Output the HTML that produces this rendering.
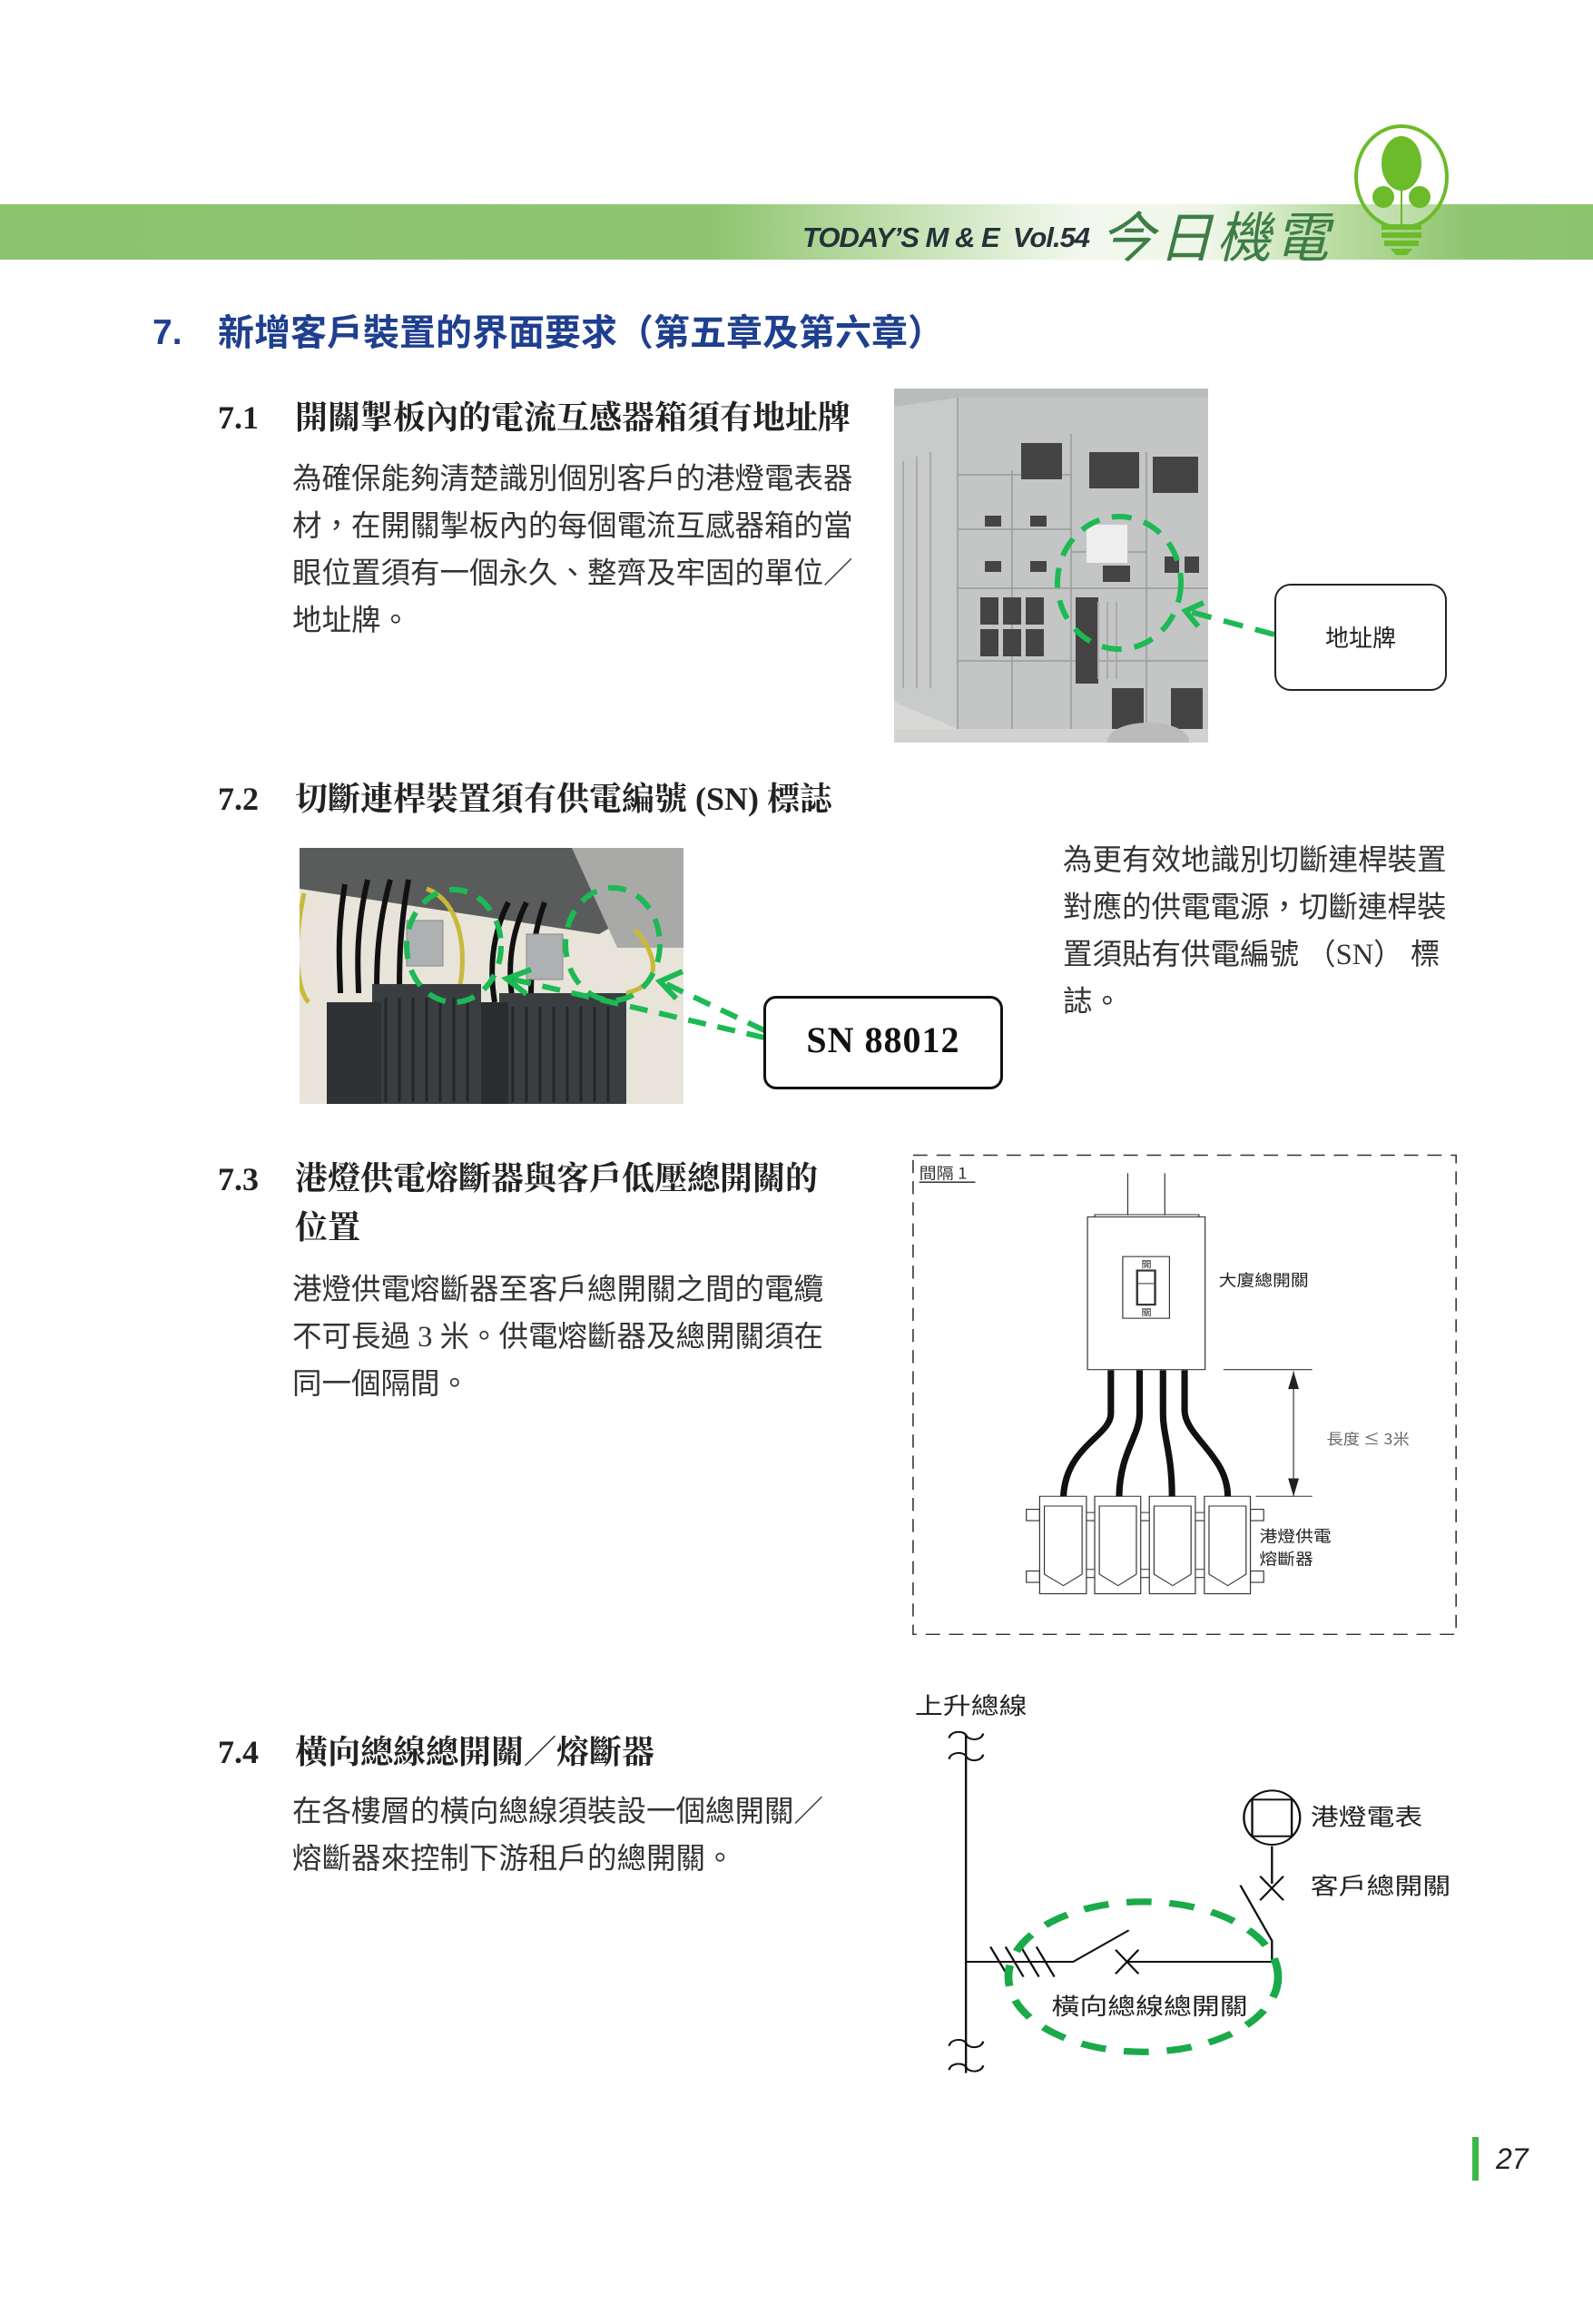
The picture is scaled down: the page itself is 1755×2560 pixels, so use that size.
<!DOCTYPE html>
<html><head><meta charset="utf-8">
<style>
body{margin:0;width:1755px;height:2560px;background:#fff;position:relative;overflow:hidden;font-family:"Liberation Sans","Noto Sans CJK TC",sans-serif;}
.a{position:absolute;white-space:nowrap;}
.h{font-family:"Liberation Serif","Noto Serif CJK SC",serif;font-weight:bold;font-size:36px;color:#222;}
.b{font-family:"Liberation Serif","Noto Sans CJK TC",sans-serif;font-size:32.5px;color:#333;line-height:52px;}
</style></head><body>
<div class="a" style="left:0;top:225px;width:1755px;height:61px;background:linear-gradient(90deg,#8cc46e 0%,#8fc570 45%,#c9e3b8 58%,#f2f8ee 68%,#eef6e8 76%,#b9dca0 84%,#8fc570 92%,#8cc46e 100%);"></div>
<div class="a" style="left:884px;top:244px;font:italic bold 31px 'Liberation Sans',sans-serif;color:#253238;letter-spacing:-1px;">TODAY’S M &amp; E&nbsp; Vol.54</div>
<div class="a" style="left:1212px;top:214px;font-size:60px;color:#3e7d46;font-family:'Noto Sans CJK TC',sans-serif;letter-spacing:4px;font-style:italic;">今日機電</div>
<svg class="a" style="left:1480px;top:135px" width="130" height="150" viewBox="0 0 130 150">
<ellipse cx="64" cy="60" rx="50" ry="56" fill="#fff" fill-opacity="0.3" stroke="#6cbb2a" stroke-width="4"/>
<ellipse cx="64" cy="45" rx="22" ry="30" fill="#6cbb2a"/>
<circle cx="44" cy="82" r="12" fill="#6cbb2a"/><circle cx="84" cy="82" r="12" fill="#6cbb2a"/>
<path d="M64 60V112" stroke="#6cbb2a" stroke-width="2"/>
<rect x="42" y="112" width="44" height="6" fill="#6cbb2a"/><rect x="42" y="121" width="44" height="6" fill="#6cbb2a"/><rect x="45" y="130" width="38" height="6" fill="#6cbb2a"/>
<path d="M52 139h24l-6 7h-12z" fill="#6cbb2a"/>
</svg>

<div class="a" style="left:168px;top:345px;font-size:39px;font-weight:bold;color:#1f3f8f;">7.</div>
<div class="a" style="left:240px;top:334px;font-size:40px;font-weight:bold;color:#1f3f8f;">新增客戶裝置的界面要求（第五章及第六章）</div>

<div class="a h" style="left:240px;top:439px;">7.1</div>
<div class="a h" style="left:325px;top:432px;">開關掣板內的電流互感器箱須有地址牌</div>
<div class="a b" style="left:322px;top:502px;">為確保能夠清楚識別個別客戶的港燈電表器<br>材，在開關掣板內的每個電流互感器箱的當<br>眼位置須有一個永久、整齊及牢固的單位／<br>地址牌。</div>

<svg class="a" style="left:985px;top:428px" width="346" height="390" viewBox="0 0 346 390">
<rect width="346" height="390" fill="#d8d8d6"/>
<rect x="0" y="0" width="346" height="30" fill="#b9bcbd"/>
<polygon points="0,20 70,10 70,375 0,345" fill="#c9cbca"/>
<rect x="70" y="10" width="276" height="365" fill="#c4c6c5"/>
<g stroke="#9a9c9b" stroke-width="1.5" fill="none">
<path d="M70 10V375M130 90V375M195 50V375M278 70V375M70 95H195M70 155H195M70 220H346M70 300H346M195 180H278"/>
</g>
<g fill="#444"><rect x="140" y="60" width="45" height="40"/><rect x="215" y="70" width="55" height="40"/><rect x="285" y="75" width="50" height="40"/>
<rect x="95" y="230" width="20" height="30"/><rect x="120" y="230" width="20" height="30"/><rect x="145" y="230" width="20" height="30"/>
<rect x="95" y="265" width="20" height="30"/><rect x="120" y="265" width="20" height="30"/><rect x="145" y="265" width="20" height="30"/>
<rect x="240" y="330" width="35" height="50"/><rect x="305" y="330" width="35" height="45"/>
<rect x="298" y="185" width="16" height="18"/><rect x="320" y="185" width="16" height="18"/>
<rect x="200" y="230" width="25" height="95"/><rect x="230" y="195" width="30" height="18"/>
<rect x="100" y="140" width="18" height="12"/><rect x="150" y="140" width="18" height="12"/><rect x="100" y="190" width="18" height="12"/><rect x="150" y="190" width="18" height="12"/></g>
<rect x="212" y="150" width="45" height="42" fill="#eee"/>
<g stroke="#aaa" stroke-width="2"><path d="M10 80V330M25 75V330M40 70V330M225 235V320M235 235V320M245 235V320"/></g>
<rect x="0" y="375" width="346" height="15" fill="#d2d2d0"/>
<ellipse cx="280" cy="388" rx="45" ry="20" fill="#bbb"/>
</svg>
<svg class="a" style="left:0;top:0" width="1755" height="2560">
<ellipse cx="1233" cy="642" rx="68" ry="73" fill="none" stroke="#1db954" stroke-width="6" stroke-dasharray="22 14"/>
<path d="M1404 699L1308 673" stroke="#1db954" stroke-width="6" stroke-dasharray="22 14" fill="none"/>
<path d="M1326 664L1306 673L1320 690" stroke="#1db954" stroke-width="6" fill="none"/>
</svg>
<div class="a" style="left:1404px;top:643px;width:186px;height:114px;border:2.5px solid #222;border-radius:18px;background:#fff;"></div>
<div class="a" style="left:1404px;top:683px;width:190px;text-align:center;font-size:26px;color:#222;">地址牌</div>

<div class="a h" style="left:240px;top:859px;">7.2</div>
<div class="a h" style="left:325px;top:852px;">切斷連桿裝置須有供電編號 (SN) 標誌</div>

<svg class="a" style="left:330px;top:934px" width="423" height="282" viewBox="0 0 423 282">
<rect width="423" height="282" fill="#e8e4da"/>
<polygon points="0,0 423,0 423,40 330,95 0,45" fill="#5a5c5c"/>
<polygon points="300,0 423,0 423,110 350,110" fill="#a9aaa8"/>
<g stroke="#111" stroke-width="6" fill="none"><path d="M50 40C40 100 45 140 45 160M75 35C60 100 65 140 65 160M100 35C85 90 85 130 85 160M120 35C110 90 110 130 110 160M230 60C210 100 210 140 215 170M250 60C230 100 230 140 235 170M270 60C255 100 255 140 255 170"/></g>
<path d="M5 50C-10 120 0 160 10 170M140 45C180 60 185 120 175 160M370 90C395 120 400 150 360 160" stroke="#c9b93a" stroke-width="5" fill="none"/>
<rect x="80" y="150" width="120" height="132" fill="#3a3e41"/><rect x="30" y="170" width="60" height="112" fill="#2e3235"/>
<rect x="220" y="160" width="140" height="122" fill="#3a3e41"/><rect x="200" y="170" width="30" height="112" fill="#2a2d30"/>
<g stroke="#23272a" stroke-width="3"><path d="M95 165V280M110 165V280M125 165V280M140 165V280M155 165V280M170 165V280M185 165V280M235 175V280M250 175V280M265 175V280M280 175V280M295 175V280M310 175V280M325 175V280M340 175V280"/></g>
<rect x="118" y="80" width="40" height="50" fill="#aeb1b2" stroke="#888"/>
<rect x="250" y="95" width="40" height="50" fill="#aeb1b2" stroke="#888"/>
</svg>
<svg class="a" style="left:0;top:0" width="1755" height="2560">
<g fill="none" stroke="#1db954" stroke-width="6" stroke-dasharray="20 13">
<ellipse cx="500" cy="1042" rx="52" ry="62"/><ellipse cx="675" cy="1040" rx="52" ry="62"/>
<path d="M842 1143L562 1078"/><path d="M842 1135L730 1082"/></g>
<g fill="none" stroke="#1db954" stroke-width="6"><path d="M585 1068L558 1078L580 1095"/><path d="M752 1070L727 1081L745 1100"/></g>
</svg>
<div class="a" style="left:841px;top:1097px;width:258px;height:97px;border:3px solid #111;border-radius:14px;background:#fff;"></div>
<div class="a" style="left:841px;top:1122px;width:264px;text-align:center;font:bold 40px 'Liberation Serif',serif;color:#111;letter-spacing:1px;">SN 88012</div>
<div class="a b" style="left:1171px;top:922px;">為更有效地識別切斷連桿裝置<br>對應的供電電源，切斷連桿裝<br>置須貼有供電編號 （SN） 標<br>誌。</div>

<div class="a h" style="left:240px;top:1278px;">7.3</div>
<div class="a h" style="left:325px;top:1271px;line-height:54px;">港燈供電熔斷器與客戶低壓總開關的<br>位置</div>
<div class="a b" style="left:322px;top:1395px;">港燈供電熔斷器至客戶總開關之間的電纜<br>不可長過 3 米。供電熔斷器及總開關須在<br>同一個隔間。</div>

<svg class="a" style="left:1000px;top:1260px" width="620" height="560" viewBox="0 0 1565 1565" preserveAspectRatio="none">
<rect x="15" y="35" width="1510" height="1475" fill="none" stroke="#333" stroke-width="4" stroke-dasharray="40 25"/>
<text x="32" y="108" font-size="48" fill="#333" font-family="Noto Sans CJK TC,sans-serif">間隔 1</text>
<path d="M32 118H188" stroke="#333" stroke-width="4"/>
<g stroke="#333" stroke-width="3" fill="none">
<path d="M612 90V220M715 90V220"/>
<rect x="500" y="225" width="327" height="470" fill="#fff"/>
<path d="M520 225V218H810V225"/>
<rect x="598" y="347" width="130" height="190"/>
<rect x="638" y="390" width="50" height="105" stroke-width="6"/><path d="M641 430H685"/>
<path d="M878 695H1125M968 1085H1125M1073 700V1085"/>
<path d="M367 1085H497V1385H367Z M520 1085H648V1385H520Z M672 1085H800V1385H672Z M825 1085H953V1385H825Z"/>
<path d="M330 1125H367V1160H330ZM330 1315H367V1350H330ZM953 1125H990V1160H953ZM953 1315H990V1350H953Z"/>
<path d="M497 1135H520M497 1160H520M648 1135H672M648 1160H672M800 1135H825M800 1160H825M497 1310H520M497 1335H520M648 1310H672M648 1335H672M800 1310H825M800 1335H825"/>
<path d="M380 1115H485V1325L433 1360L380 1325Z M533 1115H636V1325L585 1360L533 1325Z M685 1115H788V1325L737 1360L685 1325Z M838 1115H941V1325L890 1360L838 1325Z"/>
</g>
<polygon points="1073,700 1058,755 1088,755" fill="#222"/><polygon points="1073,1085 1058,1030 1088,1030" fill="#222"/>
<g stroke="#111" stroke-width="18" fill="none">
<path d="M565 697V830C565 900 440 930 433 1085"/>
<path d="M645 697V830C645 900 590 950 588 1085"/>
<path d="M710 697V830C710 900 735 950 735 1085"/>
<path d="M770 697V820C770 900 890 960 890 1085"/>
</g>
<text x="865" y="437" font-size="50" fill="#222" font-family="Noto Sans CJK TC,sans-serif">大廈總開關</text>
<text x="1165" y="925" font-size="46" fill="#666" font-family="Noto Sans CJK TC,sans-serif">長度 ≤ 3米</text>
<text x="978" y="1225" font-size="50" fill="#222" font-family="Noto Sans CJK TC,sans-serif">港燈供電</text>
<text x="978" y="1295" font-size="50" fill="#222" font-family="Noto Sans CJK TC,sans-serif">熔斷器</text>
<text x="650" y="382" font-size="28" fill="#222" font-family="Noto Sans CJK TC,sans-serif">開</text>
<text x="650" y="530" font-size="28" fill="#222" font-family="Noto Sans CJK TC,sans-serif">關</text>
</svg>

<div class="a h" style="left:240px;top:1909px;">7.4</div>
<div class="a h" style="left:325px;top:1902px;">橫向總線總開關／熔斷器</div>
<div class="a b" style="left:322px;top:1970px;">在各樓層的橫向總線須裝設一個總開關／<br>熔斷器來控制下游租戶的總開關。</div>

<svg class="a" style="left:1000px;top:1850px" width="620" height="450" viewBox="0 0 1565 1360" preserveAspectRatio="none">
<text x="20" y="115" font-size="78" fill="#222" font-family="Noto Sans CJK TC,sans-serif">上升總線</text>
<g stroke="#111" stroke-width="6" fill="none">
<path d="M162 185V1310"/>
<path d="M115 195C120 170 155 170 162 185C170 205 205 205 210 180M115 265C120 240 155 240 162 255C170 275 205 275 210 250"/>
<path d="M115 1220C120 1195 155 1195 162 1210C170 1230 205 1230 210 1205M115 1300C120 1275 155 1275 162 1290C170 1310 205 1310 210 1285"/>
<path d="M162 940H460L615 835M610 940H1013V870L925 685"/>
<path d="M230 890L280 990M272 890L322 990M315 890L365 990M358 890L408 990"/>
<path d="M578 900L642 980M642 900L578 980"/>
<path d="M1013 555V680M980 655L1045 735M1045 655L980 735"/>
<ellipse cx="1013" cy="460" rx="78" ry="90"/>
<rect x="958" y="400" width="110" height="122"/>
</g>
<ellipse cx="655" cy="990" rx="375" ry="250" fill="none" stroke="#1aaa4a" stroke-width="22" stroke-dasharray="70 50"/>
<text x="400" y="1115" font-size="78" fill="#222" font-family="Noto Sans CJK TC,sans-serif">橫向總線總開關</text>
<text x="1120" y="485" font-size="78" fill="#222" font-family="Noto Sans CJK TC,sans-serif">港燈電表</text>
<text x="1120" y="715" font-size="78" fill="#222" font-family="Noto Sans CJK TC,sans-serif">客戶總開關</text>
</svg>

<div class="a" style="left:1622px;top:2354px;width:7px;height:48px;background:#3cb84a;"></div>
<div class="a" style="left:1648px;top:2360px;font:italic 32px 'Liberation Sans',sans-serif;color:#222;">27</div>
</body></html>
